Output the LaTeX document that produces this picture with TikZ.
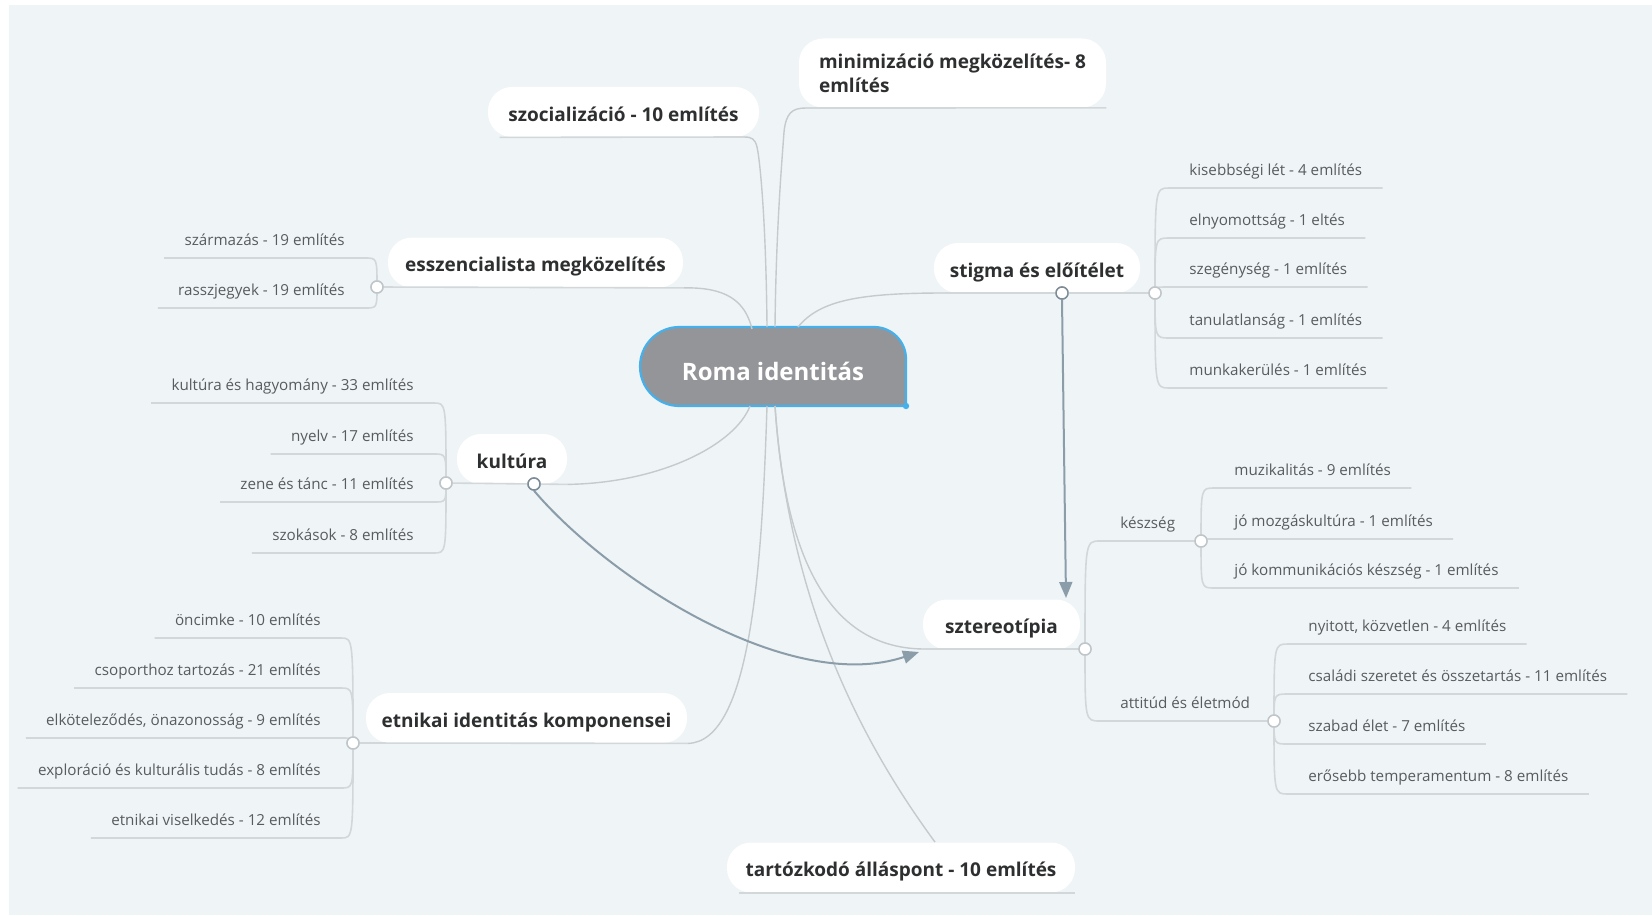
\documentclass[tikz,border=0pt]{standalone}
\usepackage{fontspec}
\setmainfont{Open Sans}
\usetikzlibrary{arrows.meta}
\definecolor{bgc}{HTML}{EFF4F7}
\definecolor{connc}{HTML}{C5CACD}
\definecolor{ulc}{HTML}{D2D7DA}
\definecolor{dotc}{HTML}{BFC5C9}
\definecolor{relc}{HTML}{8B9DA9}
\definecolor{reldot}{HTML}{7D8C96}
\definecolor{rootfill}{HTML}{939598}
\definecolor{rootline}{HTML}{45B1EC}
\definecolor{boldtext}{HTML}{2E2F30}
\definecolor{leaftext}{HTML}{595C5E}
\tikzset{
  pill/.style={rectangle, fill=white, rounded corners=12pt, inner sep=0pt,
    minimum height=25pt, text=boldtext, font=\bfseries\fontsize{9.5}{12}\selectfont},
  pill1/.style={pill, text height=10pt, text depth=1pt},
  leaf/.style={rectangle, inner xsep=10pt, inner ysep=6pt, text depth=0pt,
    text=leaftext, font=\fontsize{7.6}{9}\selectfont},
  leafL/.style={leaf, anchor=south east},
  leafR/.style={leaf, anchor=south west},
  conn/.style={draw=connc, line width=0.7pt},
  uline/.style={draw=ulc, line width=0.8pt},
  dot/.style={circle, draw=dotc, fill=white, line width=0.7pt, inner sep=0pt, minimum size=6pt},
  reldot/.style={dot, draw=reldot},
  rel/.style={draw=relc, line width=1pt, -{Triangle[length=8pt,width=6.5pt]}},
}
\begin{document}
\begin{tikzpicture}[x=0.5pt,y=-0.5pt]
\useasboundingbox (0,0) rectangle (1652,915);
\fill[white] (0,0) rectangle (1652,915);
\fill[bgc] (9,5) rectangle (1652,915);

% root shape
\fill[rootfill, draw=rootline, line width=1.1pt]
  (906,406) [rounded corners=19.7pt] -- (640,406) -- (640,327) [rounded corners=16pt] -- (906,327) [sharp corners] -- (906,406) -- cycle;
\node[inner sep=0pt, minimum width=133pt, minimum height=39.5pt, text=white,
  text height=14pt, text depth=0.5pt,
  font=\bfseries\fontsize{12}{14}\selectfont] (root) at (773,366.5) {Roma identitás};
\fill[rootline] (906,406) circle (1.6pt);

% root attachment points
\coordinate (rn1) at (767,327);
\coordinate (rn2) at (775,327);
\coordinate (rnw) at (752,329);
\coordinate (rne) at (798,327);
\coordinate (rs1) at (750,406);
\coordinate (rs2) at (767,406);
\coordinate (rs3) at (775,406);

% main branch pills
\node[pill1, minimum width=135.5pt] (szoc) at (623.5,112) {szocializáció - 10 említés};
\node[pill, minimum width=153.5pt, minimum height=34.5pt, align=left] (mini) at (952.5,73) {minimizáció megközelítés- 8\\említés};
\node[pill1, minimum width=147.5pt] (essz) at (535.5,262.5) {esszencialista megközelítés};
\node[pill1, minimum width=55pt] (kult) at (512,459) {kultúra};
\node[pill1, minimum width=160.5pt] (etn) at (526.5,718) {etnikai identitás komponensei};
\node[pill1, minimum width=103pt] (stig) at (1037,268) {stigma és előítélet};
\node[pill1, minimum width=78.5pt] (szter) at (1001.5,624.5) {sztereotípia};
\node[pill1, minimum width=174pt] (tart) at (901,867.5) {tartózkodó álláspont - 10 említés};

% branch dots
\node[dot] (essz-c) at (377,287) {};
\node[dot] (kult-c) at (446,483) {};
\node[reldot] (kult-r) at (534,484) {};
\node[dot] (etn-c) at (353,743) {};
\node[dot] (stig-c) at (1155,293) {};
\node[reldot] (stig-r) at (1062,293) {};
\node[dot] (szter-c) at (1085,649) {};

% connectors root -> branches
\draw[conn] (rn1) .. controls (766,220) and (760,160) .. (757,147) .. controls (755,139) and (752,137) .. (744,137);
\draw[uline] ([xshift=6pt]szoc.south west) -- (744,137);
\draw[conn] (rn2) .. controls (776,230) and (782,160) .. (784,132) .. controls (786,113) and (792,108) .. (806,108);
\draw[uline] (806,108) -- (mini.south east);
\draw[conn] (rnw) .. controls (745,300) and (725,287) .. (essz.south east);
\draw[uline] (essz-c) -- (essz.south east);
\draw[conn] (rs1) .. controls (735,445) and (660,483) .. (kult.south east);
\draw[uline] (kult-c) -- (kult.south east);
\draw[conn] (rs2) .. controls (762,560) and (752,743) .. (etn.south east);
\draw[uline] (etn-c) -- (etn.south east);
\draw[conn] (rne) .. controls (820,300) and (860,293) .. (945,293);
\draw[uline] (945,293) -- (stig-c);
\draw[conn] (rs3) .. controls (785,560) and (830,649) .. (925,649);
\draw[uline] (925,649) -- (szter-c);
\draw[conn] (rs3) .. controls (790,620) and (875,760) .. (tart.north -| 935,0);
\draw[uline] ([xshift=6pt]tart.south west) -- (tart.south east);

% esszencialista leaves
\node[leafL] (e1) at (365,258) {származás - 19 említés};
\node[leafL] (e2) at (365,308) {rasszjegyek - 19 említés};
\foreach \n in {e1,e2}
  \draw[uline] (essz-c.center) .. controls (essz-c.center |- \n.south east) .. (\n.south east) -- (\n.south west);

% kultúra leaves
\node[leafL] (k1) at (434,403) {kultúra és hagyomány - 33 említés};
\node[leafL] (k2) at (434,454) {nyelv - 17 említés};
\node[leafL] (k3) at (434,502) {zene és tánc - 11 említés};
\node[leafL] (k4) at (434,553) {szokások - 8 említés};
\foreach \n in {k1,k2,k3,k4}
  \draw[uline] (kult-c.center) .. controls (kult-c.center |- \n.south east) .. (\n.south east) -- (\n.south west);

% etnikai leaves
\node[leafL] (t1) at (341,638) {öncimke - 10 említés};
\node[leafL] (t2) at (341,688) {csoporthoz tartozás - 21 említés};
\node[leafL] (t3) at (341,738) {elköteleződés, önazonosság - 9 említés};
\node[leafL] (t4) at (341,788) {exploráció és kulturális tudás - 8 említés};
\node[leafL] (t5) at (341,838) {etnikai viselkedés - 12 említés};
\foreach \n in {t1,t2,t3,t4,t5}
  \draw[uline] (etn-c.center) .. controls (etn-c.center |- \n.south east) .. (\n.south east) -- (\n.south west);

% stigma leaves
\node[leafR] (s1) at (1169,188) {kisebbségi lét - 4 említés};
\node[leafR] (s2) at (1169,238) {elnyomottság - 1 eltés};
\node[leafR] (s3) at (1169,287) {szegénység - 1 említés};
\node[leafR] (s4) at (1169,338) {tanulatlanság - 1 említés};
\node[leafR] (s5) at (1169,388) {munkakerülés - 1 említés};
\foreach \n in {s1,s2,s3,s4,s5}
  \draw[uline] (stig-c.center) .. controls (stig-c.center |- \n.south west) .. (\n.south west) -- (\n.south east);

% sztereotípia sub-branches
\node[dot] (kesz-c) at (1201,541) {};
\node[dot] (att-c) at (1274,721) {};
\node[leafR] (z1) at (1100,541) {készség};
\node[leafR] (z2) at (1100,721) {attitúd és életmód};
\draw[uline] (szter-c.center) .. controls (szter-c.center |- z1.south west) .. (z1.south west) -- (kesz-c.center);
\draw[uline] (szter-c.center) .. controls (szter-c.center |- z2.south west) .. (z2.south west) -- (att-c.center);

\node[leafR] (m1) at (1214,488) {muzikalitás - 9 említés};
\node[leafR] (m2) at (1214,539) {jó mozgáskultúra - 1 említés};
\node[leafR] (m3) at (1214,588) {jó kommunikációs készség - 1 említés};
\foreach \n in {m1,m2,m3}
  \draw[uline] (kesz-c.center) .. controls (kesz-c.center |- \n.south west) .. (\n.south west) -- (\n.south east);

\node[leafR] (a1) at (1288,644) {nyitott, közvetlen - 4 említés};
\node[leafR] (a2) at (1288,694) {családi szeretet és összetartás - 11 említés};
\node[leafR] (a3) at (1288,744) {szabad élet - 7 említés};
\node[leafR] (a4) at (1288,794) {erősebb temperamentum - 8 említés};
\foreach \n in {a1,a2,a3,a4}
  \draw[uline] (att-c.center) .. controls (att-c.center |- \n.south west) .. (\n.south west) -- (\n.south east);

% relationship arrows
\coordinate (szter-in) at (919,652);
\coordinate (szter-top) at (1066,598);
\draw[rel] (kult-r.south) .. controls (610,580) and (790,695) .. (szter-in);
\draw[rel] (stig-r.south) -- (szter-top);

% redraw dots on top
\foreach \n in {essz-c,kult-c,etn-c,stig-c,szter-c,kesz-c,att-c}
  \node[dot] at (\n) {};
\foreach \n in {kult-r,stig-r}
  \node[reldot] at (\n) {};
\end{tikzpicture}
\end{document}
